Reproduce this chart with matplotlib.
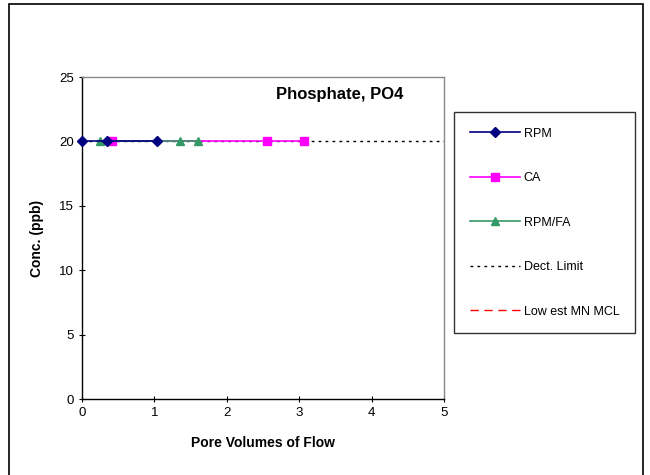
import matplotlib
matplotlib.use("Agg")
import matplotlib.pyplot as plt
from matplotlib.patches import Rectangle

plt.rcParams['font.family'] = ['Liberation Sans', 'DejaVu Sans']

rpm_x = [0.0, 0.34, 1.03]
rpm_y = [20, 20, 20]
ca_x = [0.41, 2.56, 3.07]
ca_y = [20, 20, 20]
rpmfa_x = [0.25, 1.35, 1.60]
rpmfa_y = [20, 20, 20]
dect_x = [0, 5]
dect_y = [20, 20]
mcl_x = []
mcl_y = []

fig = plt.figure(figsize=(6.5, 4.75), dpi=100)
W, H = 650, 475
ax = fig.add_axes([82 / W, 1 - 399 / H, (444 - 82) / W, (399 - 77) / H])

ax.plot(dect_x, dect_y, color='black', linestyle=(0, (2, 3)), linewidth=1.0, label='Dect. Limit', zorder=1)
ax.plot(rpm_x, rpm_y, color='#000080', marker='D', markersize=5, linewidth=1.2, label='RPM', zorder=3, clip_on=False)
ax.plot(ca_x, ca_y, color='#FF00FF', marker='s', markersize=6, linewidth=1.2, label='CA', zorder=2, clip_on=False)
ax.plot(rpmfa_x, rpmfa_y, color='#339966', marker='^', markersize=6, linewidth=1.2, label='RPM/FA', zorder=2, clip_on=False)
ax.plot(mcl_x, mcl_y, color='#FF0000', linestyle=(0, (6, 4)), linewidth=1.0, label='Low est MN MCL')

ax.set_xlim(0, 5)
ax.set_ylim(0, 25)
ax.set_xticks([0, 1, 2, 3, 4, 5])
ax.set_yticks([0, 5, 10, 15, 20, 25])
ax.tick_params(direction='inout', length=5, width=0.8, labelsize=9.5)
for s in ['top', 'right']:
    ax.spines[s].set_color('#888888')
    ax.spines[s].set_linewidth(1.0)
for s in ['left', 'bottom']:
    ax.spines[s].set_color('black')
    ax.spines[s].set_linewidth(1.0)

ax.set_xlabel('Pore Volumes of Flow', fontsize=10, fontweight='bold', labelpad=12)
ax.set_ylabel('Conc. (ppb)', fontsize=10, fontweight='bold', labelpad=11)
ax.text((403 - 82) / (444 - 82), 1 - (94 - 77) / (399 - 77), 'Phosphate, PO4', transform=ax.transAxes,
        ha='right', va='center', fontsize=12, fontweight='bold')

handles, labels = ax.get_legend_handles_labels()
order = ['RPM', 'CA', 'RPM/FA', 'Dect. Limit', 'Low est MN MCL']
hmap = dict(zip(labels, handles))
leg = fig.legend([hmap[k] for k in order], order, loc='upper left',
                 bbox_to_anchor=(454 / W, 1 - 112 / H), borderaxespad=0,
                 fontsize=9, frameon=True, fancybox=False, edgecolor='black',
                 labelspacing=2.6, handlelength=4.0, handletextpad=0.32, borderpad=1.25)
leg.get_frame().set_linewidth(1.0)

fig.patches.append(Rectangle((9 / W, -0.01), (643 - 9) / W, 1.01 - 4 / H, transform=fig.transFigure,
                             fill=False, edgecolor='black', linewidth=1.2))

fig.savefig('out.png', dpi=100, facecolor='white')
